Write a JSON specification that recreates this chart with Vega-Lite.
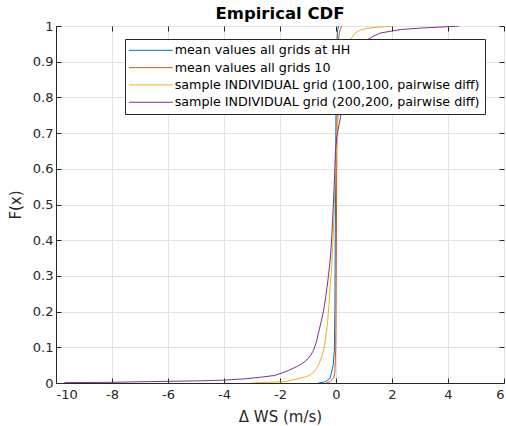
{
  "$schema": "https://vega.github.io/schema/vega-lite/v6.json",
  "width": 448,
  "height": 357,
  "autosize": {"type": "none"},
  "padding": {"left": 56, "top": 26, "right": 2, "bottom": 43},
  "background": "white",
  "title": {"text": "Empirical CDF", "font": "DejaVu Sans", "fontSize": 16.5, "fontWeight": "bold", "color": "#000000", "offset": 7, "dy": 9},
  "config": {
    "font": "DejaVu Sans",
    "view": {"stroke": "#262626", "strokeWidth": 1},
    "axis": {
      "labelFont": "DejaVu Sans", "labelFontSize": 13, "labelColor": "#262626",
      "titleFont": "DejaVu Sans", "titleFontSize": 15, "titleColor": "#262626", "titleFontWeight": "normal",
      "domainColor": "#262626", "tickColor": "#262626", "tickSize": -5,
      "gridColor": "#e3e3e3", "gridWidth": 1
    }
  },
  "data": {"values": [
    {"s": "mean values all grids at HH", "x": -0.63, "y": 0},
    {"s": "mean values all grids at HH", "x": -0.4, "y": 0.003},
    {"s": "mean values all grids at HH", "x": -0.21, "y": 0.013},
    {"s": "mean values all grids at HH", "x": -0.1, "y": 0.05},
    {"s": "mean values all grids at HH", "x": -0.06, "y": 0.09},
    {"s": "mean values all grids at HH", "x": -0.04, "y": 0.2},
    {"s": "mean values all grids at HH", "x": -0.03, "y": 0.35},
    {"s": "mean values all grids at HH", "x": -0.02, "y": 0.5},
    {"s": "mean values all grids at HH", "x": -0.01, "y": 0.65},
    {"s": "mean values all grids at HH", "x": 0.0, "y": 0.78},
    {"s": "mean values all grids at HH", "x": 0.02, "y": 0.9},
    {"s": "mean values all grids at HH", "x": 0.04, "y": 0.96},
    {"s": "mean values all grids at HH", "x": 0.06, "y": 0.99},
    {"s": "mean values all grids at HH", "x": 0.1, "y": 1},
    {"s": "mean values all grids 10", "x": -0.35, "y": 0},
    {"s": "mean values all grids 10", "x": -0.21, "y": 0.004},
    {"s": "mean values all grids 10", "x": -0.08, "y": 0.015},
    {"s": "mean values all grids 10", "x": -0.04, "y": 0.03},
    {"s": "mean values all grids 10", "x": -0.01, "y": 0.1},
    {"s": "mean values all grids 10", "x": 0.0, "y": 0.2},
    {"s": "mean values all grids 10", "x": 0.01, "y": 0.35},
    {"s": "mean values all grids 10", "x": 0.02, "y": 0.5},
    {"s": "mean values all grids 10", "x": 0.03, "y": 0.65},
    {"s": "mean values all grids 10", "x": 0.05, "y": 0.8},
    {"s": "mean values all grids 10", "x": 0.07, "y": 0.92},
    {"s": "mean values all grids 10", "x": 0.1, "y": 0.97},
    {"s": "mean values all grids 10", "x": 0.15, "y": 0.99},
    {"s": "mean values all grids 10", "x": 0.2, "y": 1},
    {"s": "sample INDIVIDUAL grid (100,100, pairwise diff)", "x": -3.0, "y": 0},
    {"s": "sample INDIVIDUAL grid (100,100, pairwise diff)", "x": -2.5, "y": 0.002},
    {"s": "sample INDIVIDUAL grid (100,100, pairwise diff)", "x": -2.0, "y": 0.003},
    {"s": "sample INDIVIDUAL grid (100,100, pairwise diff)", "x": -1.8, "y": 0.004},
    {"s": "sample INDIVIDUAL grid (100,100, pairwise diff)", "x": -1.4, "y": 0.011},
    {"s": "sample INDIVIDUAL grid (100,100, pairwise diff)", "x": -1.05, "y": 0.018},
    {"s": "sample INDIVIDUAL grid (100,100, pairwise diff)", "x": -0.93, "y": 0.022},
    {"s": "sample INDIVIDUAL grid (100,100, pairwise diff)", "x": -0.8, "y": 0.03},
    {"s": "sample INDIVIDUAL grid (100,100, pairwise diff)", "x": -0.69, "y": 0.041},
    {"s": "sample INDIVIDUAL grid (100,100, pairwise diff)", "x": -0.6, "y": 0.055},
    {"s": "sample INDIVIDUAL grid (100,100, pairwise diff)", "x": -0.51, "y": 0.074},
    {"s": "sample INDIVIDUAL grid (100,100, pairwise diff)", "x": -0.45, "y": 0.09},
    {"s": "sample INDIVIDUAL grid (100,100, pairwise diff)", "x": -0.39, "y": 0.115},
    {"s": "sample INDIVIDUAL grid (100,100, pairwise diff)", "x": -0.3, "y": 0.17},
    {"s": "sample INDIVIDUAL grid (100,100, pairwise diff)", "x": -0.25, "y": 0.22},
    {"s": "sample INDIVIDUAL grid (100,100, pairwise diff)", "x": -0.21, "y": 0.27},
    {"s": "sample INDIVIDUAL grid (100,100, pairwise diff)", "x": -0.15, "y": 0.33},
    {"s": "sample INDIVIDUAL grid (100,100, pairwise diff)", "x": -0.12, "y": 0.38},
    {"s": "sample INDIVIDUAL grid (100,100, pairwise diff)", "x": -0.07, "y": 0.47},
    {"s": "sample INDIVIDUAL grid (100,100, pairwise diff)", "x": -0.04, "y": 0.54},
    {"s": "sample INDIVIDUAL grid (100,100, pairwise diff)", "x": -0.01, "y": 0.62},
    {"s": "sample INDIVIDUAL grid (100,100, pairwise diff)", "x": 0.02, "y": 0.69},
    {"s": "sample INDIVIDUAL grid (100,100, pairwise diff)", "x": 0.07, "y": 0.74},
    {"s": "sample INDIVIDUAL grid (100,100, pairwise diff)", "x": 0.12, "y": 0.78},
    {"s": "sample INDIVIDUAL grid (100,100, pairwise diff)", "x": 0.2, "y": 0.84},
    {"s": "sample INDIVIDUAL grid (100,100, pairwise diff)", "x": 0.3, "y": 0.9},
    {"s": "sample INDIVIDUAL grid (100,100, pairwise diff)", "x": 0.4, "y": 0.94},
    {"s": "sample INDIVIDUAL grid (100,100, pairwise diff)", "x": 0.5, "y": 0.96},
    {"s": "sample INDIVIDUAL grid (100,100, pairwise diff)", "x": 0.68, "y": 0.98},
    {"s": "sample INDIVIDUAL grid (100,100, pairwise diff)", "x": 0.85, "y": 0.988},
    {"s": "sample INDIVIDUAL grid (100,100, pairwise diff)", "x": 1.1, "y": 0.993},
    {"s": "sample INDIVIDUAL grid (100,100, pairwise diff)", "x": 1.5, "y": 0.997},
    {"s": "sample INDIVIDUAL grid (100,100, pairwise diff)", "x": 2.0, "y": 1},
    {"s": "sample INDIVIDUAL grid (200,200, pairwise diff)", "x": -9.7, "y": 0.001},
    {"s": "sample INDIVIDUAL grid (200,200, pairwise diff)", "x": -8.0, "y": 0.002},
    {"s": "sample INDIVIDUAL grid (200,200, pairwise diff)", "x": -6.6, "y": 0.004},
    {"s": "sample INDIVIDUAL grid (200,200, pairwise diff)", "x": -4.9, "y": 0.006},
    {"s": "sample INDIVIDUAL grid (200,200, pairwise diff)", "x": -4.0, "y": 0.008},
    {"s": "sample INDIVIDUAL grid (200,200, pairwise diff)", "x": -3.2, "y": 0.012},
    {"s": "sample INDIVIDUAL grid (200,200, pairwise diff)", "x": -2.6, "y": 0.017},
    {"s": "sample INDIVIDUAL grid (200,200, pairwise diff)", "x": -2.2, "y": 0.021},
    {"s": "sample INDIVIDUAL grid (200,200, pairwise diff)", "x": -2.0, "y": 0.026},
    {"s": "sample INDIVIDUAL grid (200,200, pairwise diff)", "x": -1.7, "y": 0.035},
    {"s": "sample INDIVIDUAL grid (200,200, pairwise diff)", "x": -1.4, "y": 0.046},
    {"s": "sample INDIVIDUAL grid (200,200, pairwise diff)", "x": -1.2, "y": 0.055},
    {"s": "sample INDIVIDUAL grid (200,200, pairwise diff)", "x": -1.05, "y": 0.064},
    {"s": "sample INDIVIDUAL grid (200,200, pairwise diff)", "x": -0.9, "y": 0.078},
    {"s": "sample INDIVIDUAL grid (200,200, pairwise diff)", "x": -0.8, "y": 0.092},
    {"s": "sample INDIVIDUAL grid (200,200, pairwise diff)", "x": -0.7, "y": 0.115},
    {"s": "sample INDIVIDUAL grid (200,200, pairwise diff)", "x": -0.63, "y": 0.139},
    {"s": "sample INDIVIDUAL grid (200,200, pairwise diff)", "x": -0.55, "y": 0.165},
    {"s": "sample INDIVIDUAL grid (200,200, pairwise diff)", "x": -0.45, "y": 0.2},
    {"s": "sample INDIVIDUAL grid (200,200, pairwise diff)", "x": -0.37, "y": 0.24},
    {"s": "sample INDIVIDUAL grid (200,200, pairwise diff)", "x": -0.3, "y": 0.28},
    {"s": "sample INDIVIDUAL grid (200,200, pairwise diff)", "x": -0.2, "y": 0.35},
    {"s": "sample INDIVIDUAL grid (200,200, pairwise diff)", "x": -0.15, "y": 0.41},
    {"s": "sample INDIVIDUAL grid (200,200, pairwise diff)", "x": -0.1, "y": 0.49},
    {"s": "sample INDIVIDUAL grid (200,200, pairwise diff)", "x": -0.05, "y": 0.58},
    {"s": "sample INDIVIDUAL grid (200,200, pairwise diff)", "x": -0.02, "y": 0.65},
    {"s": "sample INDIVIDUAL grid (200,200, pairwise diff)", "x": 0.03, "y": 0.69},
    {"s": "sample INDIVIDUAL grid (200,200, pairwise diff)", "x": 0.1, "y": 0.72},
    {"s": "sample INDIVIDUAL grid (200,200, pairwise diff)", "x": 0.2, "y": 0.76},
    {"s": "sample INDIVIDUAL grid (200,200, pairwise diff)", "x": 0.3, "y": 0.8},
    {"s": "sample INDIVIDUAL grid (200,200, pairwise diff)", "x": 0.5, "y": 0.86},
    {"s": "sample INDIVIDUAL grid (200,200, pairwise diff)", "x": 0.7, "y": 0.91},
    {"s": "sample INDIVIDUAL grid (200,200, pairwise diff)", "x": 0.9, "y": 0.94},
    {"s": "sample INDIVIDUAL grid (200,200, pairwise diff)", "x": 1.1, "y": 0.96},
    {"s": "sample INDIVIDUAL grid (200,200, pairwise diff)", "x": 1.3, "y": 0.97},
    {"s": "sample INDIVIDUAL grid (200,200, pairwise diff)", "x": 1.57, "y": 0.98},
    {"s": "sample INDIVIDUAL grid (200,200, pairwise diff)", "x": 2.0, "y": 0.986},
    {"s": "sample INDIVIDUAL grid (200,200, pairwise diff)", "x": 2.3, "y": 0.99},
    {"s": "sample INDIVIDUAL grid (200,200, pairwise diff)", "x": 3.0, "y": 0.994},
    {"s": "sample INDIVIDUAL grid (200,200, pairwise diff)", "x": 3.5, "y": 0.996},
    {"s": "sample INDIVIDUAL grid (200,200, pairwise diff)", "x": 4.0, "y": 0.998},
    {"s": "sample INDIVIDUAL grid (200,200, pairwise diff)", "x": 4.4, "y": 1}
  ]},
  "layer": [
    {
      "mark": {"type": "line", "strokeWidth": 1, "clip": true},
      "encoding": {
        "x": {"field": "x", "type": "quantitative", "title": "Δ WS (m/s)",
          "scale": {"domain": [-10, 6], "nice": false, "zero": false},
          "axis": {"orient": "bottom", "values": [-10, -8, -6, -4, -2, 0, 2, 4, 6], "labelExpr": "'' + datum.value", "titlePadding": 8, "labelPadding": 10}},
        "y": {"field": "y", "type": "quantitative", "title": "F(x)",
          "scale": {"domain": [0, 1], "nice": false},
          "axis": {"orient": "left", "values": [0, 0.1, 0.2, 0.3, 0.4, 0.5, 0.6, 0.7, 0.8, 0.9, 1], "format": "~g", "labelPadding": 8, "titlePadding": 9}},
        "color": {"field": "s", "type": "nominal",
          "scale": {"domain": ["mean values all grids at HH", "mean values all grids 10", "sample INDIVIDUAL grid (100,100, pairwise diff)", "sample INDIVIDUAL grid (200,200, pairwise diff)"],
            "range": ["#0072BD", "#D95319", "#EDB120", "#7E2F8E"]},
          "legend": {"title": null, "orient": "none", "legendX": 69, "legendY": 13,
            "symbolType": "M-1.36,0H6.64", "symbolSize": 121, "symbolStrokeWidth": 1,
            "labelFont": "DejaVu Sans", "labelFontSize": 12.7, "labelColor": "#000000", "labelOffset": 32,
            "labelExpr": "datum.label + '\u00a0\u00a0\u00a0\u00a0\u00a0'",
            "strokeColor": "#262626", "fillColor": "white", "padding": 5, "rowPadding": 3.3, "labelLimit": 400, "cornerRadius": 0}}
      }
    },
    {
      "mark": {"type": "line", "strokeOpacity": 0},
      "encoding": {
        "x": {"field": "x", "type": "quantitative",
          "axis": {"orient": "top", "values": [-10, -8, -6, -4, -2, 0, 2, 4, 6], "labels": false, "title": null, "grid": false, "domain": false}},
        "y": {"field": "y", "type": "quantitative",
          "axis": {"orient": "right", "values": [0, 0.1, 0.2, 0.3, 0.4, 0.5, 0.6, 0.7, 0.8, 0.9, 1], "labels": false, "title": null, "grid": false, "domain": false}}
      }
    }
  ]
}
